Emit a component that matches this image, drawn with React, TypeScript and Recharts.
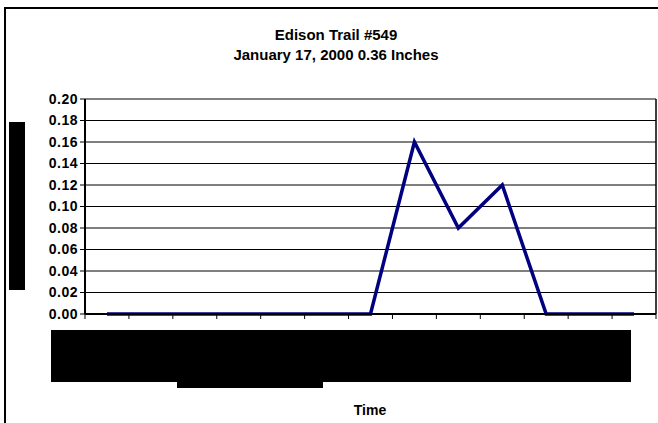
import React from 'react';
import { LineChart, Line, XAxis, YAxis, CartesianGrid, ReferenceLine } from 'recharts';

const titleLine1 = 'Edison Trail #549';
const titleLine2 = 'January 17, 2000 0.36 Inches';
const xAxisTitle = 'Time';

// 13 time intervals (labels are redacted in the reference)
const intervalIndex = [0, 1, 2, 3, 4, 5, 6, 7, 8, 9, 10, 11, 12];
const rainfall = [0, 0, 0, 0, 0, 0, 0, 0.16, 0.08, 0.12, 0, 0, 0];
const yTicks = [0, 0.02, 0.04, 0.06, 0.08, 0.1, 0.12, 0.14, 0.16, 0.18, 0.2];
const xBoundaryTicks = [0, 1, 2, 3, 4, 5, 6, 7, 8, 9, 10, 11, 12, 13];

const data = intervalIndex.map((i) => ({ x: i + 0.5, v: rainfall[i] }));

const FONT = '"Liberation Sans", Arial, sans-serif';

export default function App() {
  return (
    <div
      style={{
        position: 'absolute',
        left: 0,
        top: 0,
        width: 658,
        height: 423,
        overflow: 'hidden',
        background: '#fff',
        fontFamily: FONT,
      }}
    >
      <div
        style={{
          position: 'absolute',
          left: 4,
          top: 7,
          width: 800,
          height: 600,
          borderLeft: '2px solid #000',
          borderTop: '2px solid #000',
        }}
      />
      <div
        style={{
          position: 'absolute',
          left: 0,
          top: 25,
          width: 672,
          textAlign: 'center',
          fontWeight: 'bold',
          fontSize: 15,
          lineHeight: '20px',
          color: '#000',
        }}
      >
        <div>{titleLine1}</div>
        <div>{titleLine2}</div>
      </div>
      <div style={{ position: 'absolute', left: 0, top: 0 }}>
        <LineChart
          width={658}
          height={423}
          data={data}
          margin={{ top: 99, right: 2, bottom: 79, left: 45 }}
        >
          <CartesianGrid vertical={false} stroke="#000" strokeWidth={1} />
          <XAxis
            dataKey="x"
            type="number"
            domain={[0, 13]}
            ticks={xBoundaryTicks}
            interval={0}
            height={30}
            tickFormatter={() => ''}
            axisLine={{ stroke: '#000', strokeWidth: 2 }}
            tickLine={{ stroke: '#000', strokeWidth: 1 }}
            tickSize={5}
          />
          <YAxis
            type="number"
            domain={[0, 0.2]}
            ticks={yTicks}
            interval={0}
            width={40}
            tickFormatter={(v: number) => v.toFixed(2)}
            tick={{ fill: '#000', fontSize: 14, fontWeight: 'bold', fontFamily: FONT, letterSpacing: 0.5 }}
            axisLine={{ stroke: '#000', strokeWidth: 2 }}
            tickLine={{ stroke: '#000', strokeWidth: 1 }}
            tickSize={5}
          />
          <ReferenceLine x={13} stroke="#000" strokeWidth={1.5} />
          <Line
            type="linear"
            dataKey="v"
            stroke="#000080"
            strokeWidth={3.5}
            dot={false}
            isAnimationActive={false}
          />
        </LineChart>
      </div>
      <div style={{ position: 'absolute', left: 9, top: 122, width: 16, height: 168, background: '#000' }} />
      <div style={{ position: 'absolute', left: 51, top: 330, width: 580, height: 52, background: '#000' }} />
      <div style={{ position: 'absolute', left: 177, top: 381, width: 146, height: 7, background: '#000' }} />
      <div
        style={{
          position: 'absolute',
          left: 320,
          top: 402,
          width: 100,
          textAlign: 'center',
          fontWeight: 'bold',
          fontSize: 14,
          lineHeight: '16px',
          color: '#000',
        }}
      >
        {xAxisTitle}
      </div>
    </div>
  );
}
